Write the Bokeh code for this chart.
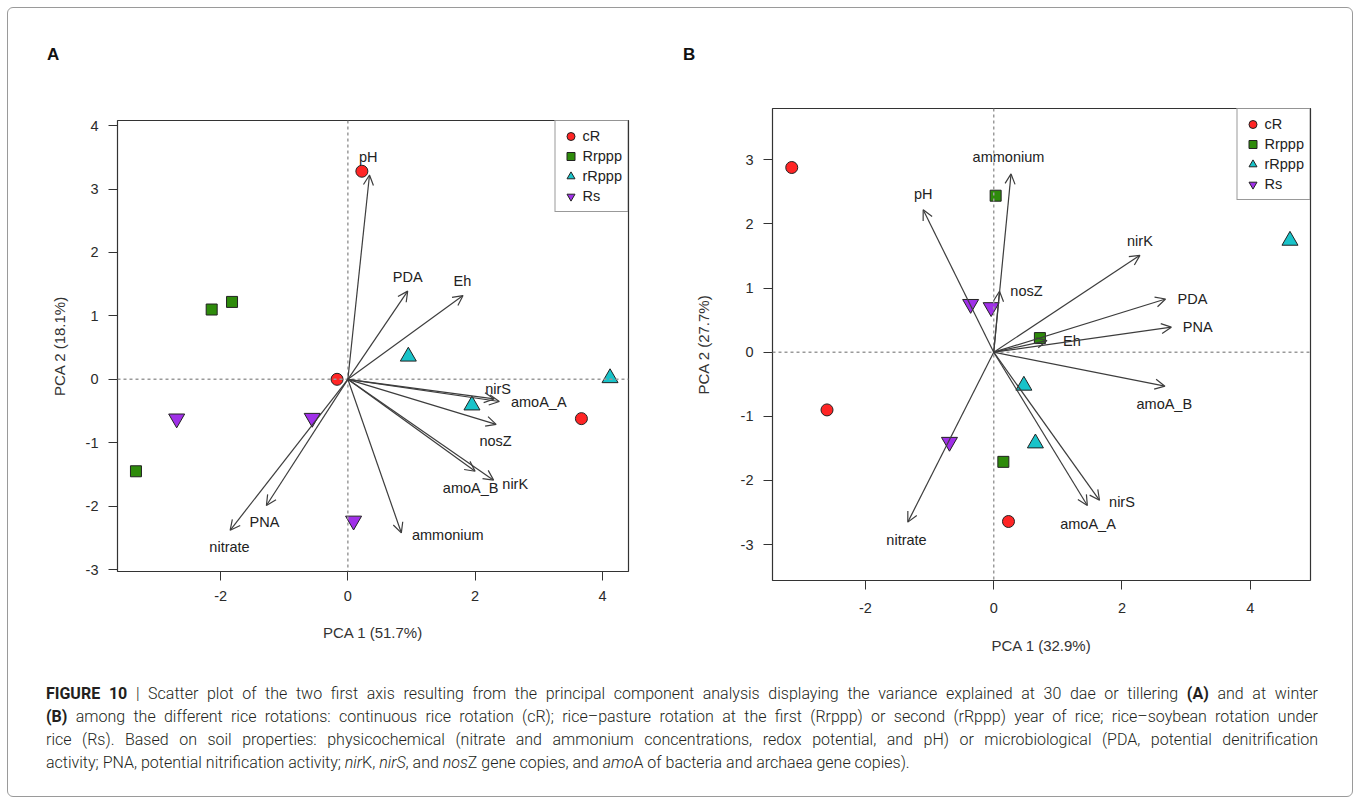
import math
from bokeh.plotting import figure
from bokeh.models import (ColumnDataSource, Arrow, OpenHead, Span, Legend, LegendItem,
                          FixedTicker, Div, Range1d, PrintfTickFormatter)
from bokeh.layouts import column, row
from bokeh.embed import file_html
from bokeh.resources import INLINE
from bokeh.core.properties import value

FONT = "Liberation Sans"

groups = ["cR", "Rrppp", "rRppp", "Rs"]
markers = ["circle", "square", "triangle", "inverted_triangle"]
colors = ["#FF2525", "#2E8B0B", "#19C3C9", "#A030E8"]
msizes = [12, 11, 16, 16]

# ---------------- Panel A (30 dae / tillering) ----------------
a_x = {"cR": [0.22, -0.17, 3.67], "Rrppp": [-2.14, -1.82, -3.33],
       "rRppp": [0.95, 4.12, 1.95], "Rs": [-2.69, -0.56, 0.09]}
a_y = {"cR": [3.28, 0.00, -0.62], "Rrppp": [1.10, 1.22, -1.45],
       "rRppp": [0.36, 0.02, -0.41], "Rs": [-0.62, -0.61, -2.23]}
a_vars = ["pH", "PDA", "Eh", "nirS", "amoA_A", "nosZ", "amoA_B", "nirK", "ammonium", "PNA", "nitrate"]
a_tip_x = [0.34, 0.94, 1.81, 2.30, 2.38, 2.33, 2.00, 2.29, 0.84, -1.28, -1.85]
a_tip_y = [3.22, 1.39, 1.32, -0.31, -0.35, -0.71, -1.45, -1.59, -2.42, -1.99, -2.38]
a_lab_x = [0.32, 0.94, 1.80, 2.36, 3.00, 2.32, 1.93, 2.63, 1.57, -1.31, -1.86]
a_lab_y = [3.50, 1.61, 1.55, -0.15, -0.36, -0.98, -1.72, -1.65, -2.46, -2.25, -2.64]
a_xticks = [-2, 0, 2, 4]
a_yticks = [-3, -2, -1, 0, 1, 2, 3, 4]
a_xlabel = "PCA 1 (51.7%)"
a_ylabel = "PCA 2 (18.1%)"

# ---------------- Panel B (winter) ----------------
b_x = {"cR": [-3.15, -2.60, 0.23], "Rrppp": [0.03, 0.72, 0.15],
       "rRppp": [4.62, 0.47, 0.65], "Rs": [-0.36, -0.04, -0.69]}
b_y = {"cR": [2.88, -0.90, -2.64], "Rrppp": [2.44, 0.22, -1.71],
       "rRppp": [1.74, -0.52, -1.42], "Rs": [0.75, 0.70, -1.40]}
b_vars = ["ammonium", "pH", "nosZ", "nirK", "PDA", "PNA", "Eh", "amoA_B", "nirS", "amoA_A", "nitrate"]
b_tip_x = [0.27, -1.10, 0.09, 2.28, 2.68, 2.77, 0.83, 2.67, 1.65, 1.46, -1.34]
b_tip_y = [2.78, 2.22, 0.95, 1.51, 0.83, 0.39, 0.18, -0.53, -2.31, -2.39, -2.65]
b_lab_x = [0.23, -1.10, 0.51, 2.28, 3.10, 3.18, 1.22, 2.66, 2.00, 1.47, -1.36]
b_lab_y = [3.05, 2.47, 0.96, 1.74, 0.83, 0.39, 0.17, -0.80, -2.34, -2.68, -2.93]
b_xticks = [-2, 0, 2, 4]
b_yticks = [-3, -2, -1, 0, 1, 2, 3]
b_xlabel = "PCA 1 (32.9%)"
b_ylabel = "PCA 2 (27.7%)"


def make_panel(px, py, vars_, tx, ty, lx, ly, xt, yt, xlab, ylab,
               xr, yr, height, borders, x_so, y_so, xl_so, yl_so):
    bl, br, bt, bb = borders
    p = figure(width=672, height=height, output_backend="svg", toolbar_location=None,
               x_range=Range1d(*xr), y_range=Range1d(*yr),
               min_border_left=bl, min_border_right=br,
               min_border_top=bt, min_border_bottom=bb, margin=0)
    p.xgrid.visible = False
    p.ygrid.visible = False
    p.outline_line_color = "#333333"
    p.outline_line_width = 1.2
    p.background_fill_color = "white"
    p.border_fill_color = "white"
    for ax, ticks, lab, so, lso in ((p.xaxis[0], xt, xlab, x_so, xl_so),
                                    (p.yaxis[0], yt, ylab, y_so, yl_so)):
        ax.ticker = FixedTicker(ticks=ticks)
        ax.formatter = PrintfTickFormatter(format="%d")
        ax.axis_line_color = None
        ax.major_tick_line_color = "#333333"
        ax.major_tick_in = 0
        ax.major_tick_out = 9
        ax.minor_tick_line_color = None
        ax.major_label_text_font = FONT
        ax.major_label_text_font_size = "14.5px"
        ax.major_label_text_color = "#2a2a2a"
        ax.major_label_standoff = so
        ax.axis_label = lab
        ax.axis_label_standoff = lso
        ax.axis_label_text_font = FONT
        ax.axis_label_text_font_size = "15px"
        ax.axis_label_text_font_style = "normal"
        ax.axis_label_text_color = "#333333"

    p.add_layout(Span(location=0, dimension="width", line_dash="3 3",
                      line_color="#9a9a9a", line_width=1.5))
    p.add_layout(Span(location=0, dimension="height", line_dash="3 3",
                      line_color="#9a9a9a", line_width=1.5))

    asrc = ColumnDataSource(dict(x0=[0.0] * len(vars_), y0=[0.0] * len(vars_),
                                 x1=tx, y1=ty))
    p.add_layout(Arrow(source=asrc, x_start="x0", y_start="y0", x_end="x1", y_end="y1",
                       line_color="#3d3d3d", line_width=1.2,
                       end=OpenHead(size=10, line_color="#3d3d3d", line_width=1.2)))
    tsrc = ColumnDataSource(dict(x=lx, y=ly, t=vars_))
    p.text(x="x", y="y", text="t", source=tsrc, text_font=value(FONT),
           text_font_size="14.5px", text_color="#222222",
           text_align="center", text_baseline="middle")

    items = []
    for g, m, c, s in zip(groups, markers, colors, msizes):
        r = p.scatter(px[g], py[g], marker=m, size=s, fill_color=c,
                      line_color="#222222", line_width=1)
        items.append(LegendItem(label=g, renderers=[r]))
    leg = Legend(items=items, location="top_right", margin=0, padding=5, spacing=0,
                 label_text_font=FONT, label_text_font_size="14.5px",
                 label_text_color="#222222", border_line_color="#333333",
                 border_line_width=1.2, glyph_height=20, glyph_width=20,
                 label_height=20, label_standoff=2)
    p.add_layout(leg)
    return p


pA = make_panel(a_x, a_y, a_vars, a_tip_x, a_tip_y, a_lab_x, a_lab_y,
                a_xticks, a_yticks, a_xlabel, a_ylabel,
                (-3.62, 4.41), (-3.03, 4.08), 590, (109, 52, 30, 109),
                10, 10, 20, 15)
pB = make_panel(b_x, b_y, b_vars, b_tip_x, b_tip_y, b_lab_x, b_lab_y,
                b_xticks, b_yticks, b_xlabel, b_ylabel,
                (-3.45, 4.94), (-3.56, 3.80), 602, (92, 42, 30, 100),
                13, 10, 21, 26)


def letter_div(letter, left, top, height):
    return Div(width=672, height=height, margin=0, text=(
        '<div style="position:relative; width:672px; height:%dpx; '
        'font-family:\'Liberation Sans\', sans-serif; font-weight:bold; font-size:17px; '
        'line-height:20px; color:#111;"><span style="position:absolute; left:%dpx; top:%dpx;">%s</span></div>'
        % (height, left, top, letter)))


colA = column(letter_div("A", 39, 37, 82), pA, spacing=0)
colB = column(letter_div("B", 3, 37, 70), pB, spacing=0)

B = '<b style="font-weight:700;">'
caption = (
    '<div style="font-family: Roboto, \'Liberation Sans\', sans-serif; font-weight:300; '
    'font-size:16px; line-height:23px; color:#231f20; width:1272px; margin-left:38px; margin-top:2px;">'
    '<div style="text-align:justify; text-align-last:justify;">' + B + 'FIGURE 10</b> | Scatter plot of the two first axis '
    'resulting from the principal component analysis displaying the variance explained at 30 dae or tillering '
    + B + '(A)</b> and at winter</div>'
    '<div style="text-align:justify; text-align-last:justify;">' + B + '(B)</b> among the different rice rotations: continuous '
    'rice rotation (cR); rice–pasture rotation at the first (Rrppp) or second (rRppp) year of rice; rice–soybean '
    'rotation under</div>'
    '<div style="text-align:justify; text-align-last:justify;">rice (Rs). Based on soil properties: physicochemical '
    '(nitrate and ammonium concentrations, redox potential, and pH) or microbiological (PDA, potential '
    'denitrification</div>'
    '<div>activity; PNA, potential nitrification activity; <i>nir</i>K, <i>nirS</i>, and <i>nos</i>Z gene copies, '
    'and <i>amo</i>A of bacteria and archaea gene copies).</div>'
    '</div>'
)
cap = Div(text=caption, width=1344, height=116, margin=0)

layout = column(row(colA, colB, spacing=0), cap, spacing=0,
                styles={"border": "1px solid #9a9a9a", "border-radius": "6px",
                        "margin-left": "7px", "margin-top": "7px"})

open("out.html", "w").write(file_html(layout, INLINE))
